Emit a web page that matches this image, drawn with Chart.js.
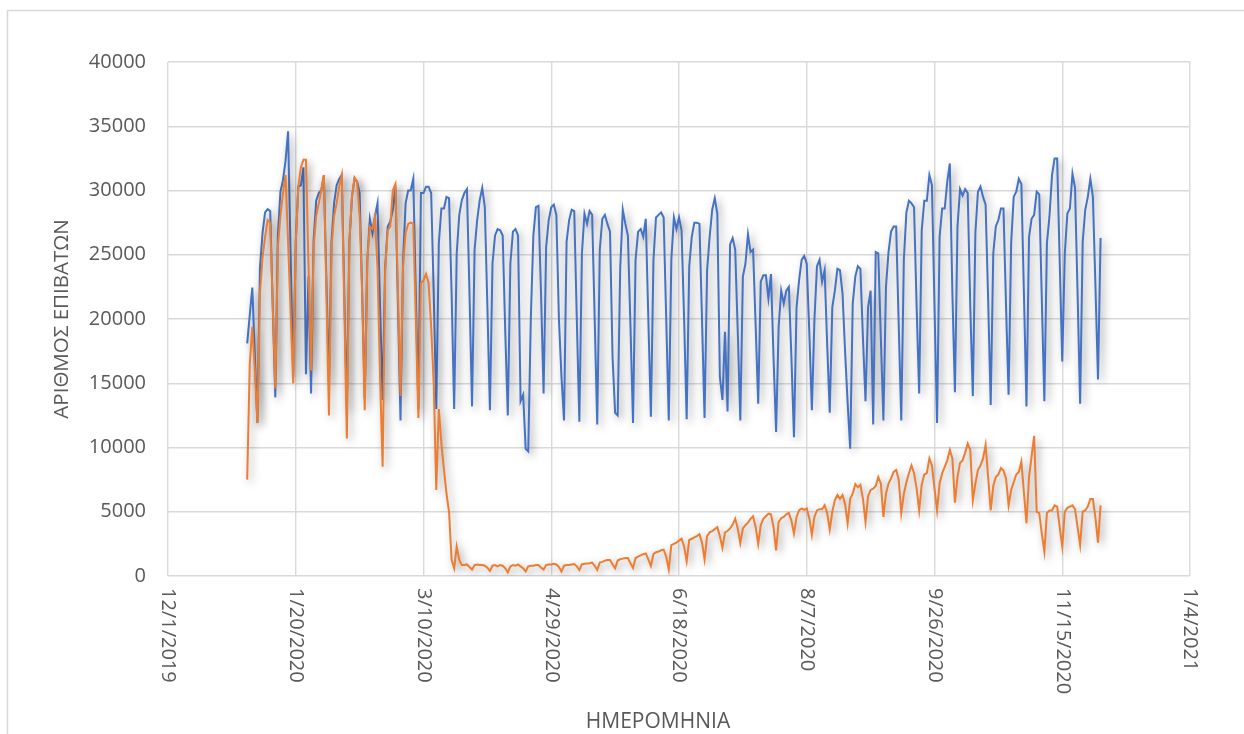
<!DOCTYPE html>
<html>
<head>
<meta charset="utf-8">
<script src="https://cdn.jsdelivr.net/npm/chart.js@4.4.1/dist/chart.umd.min.js"></script>
<style>
  html, body { margin: 0; padding: 0; background: #ffffff; }
  #wrap { width: 1244px; height: 734px; position: relative; }
</style>
</head>
<body>
<div id="wrap"><canvas id="chart" width="1244" height="734"></canvas></div>
<script>
// Daily passenger counts, 1 Jan 2020 onwards (one value per day)
const firstDate = '2020-01-01';
const axisStartDate = '2019-12-01';

const passengers2019 = [
  18100, 20300, 22450, 17000, 11900, 24000, 26700, 28300, 28550, 28400, 21000, 13900,
  26500, 29900, 30800, 32300, 34600, 25000, 15500, 26000, 30300, 30400, 31800, 15700,
  23300, 14200, 26100, 29200, 29800, 30000, 31200, 23000, 15000, 26000, 29000, 30400,
  30900, 31200, 22000, 13000, 26000, 29500, 30900, 30700, 29800, 22000, 13800, 24500,
  27800, 26700, 28000, 29000, 21000, 13700, 24000, 27200, 27600, 28500, 30400, 21000,
  12100, 24500, 29000, 30000, 30000, 30900, 22000, 13000, 29800, 29800, 30300, 30300,
  29800, 22000, 13000, 25900, 28600, 28600, 29500, 29400, 22000, 13000, 25100, 28100,
  29250, 29800, 30100, 22000, 13200, 25400, 27700, 29250, 30200, 28700, 21000, 12900,
  24300, 26500, 27000, 26900, 26500, 19000, 12500, 24300, 26800, 27000, 26500, 13600,
  14100, 9900, 9700, 20000, 26500, 28700, 28800, 22000, 14200, 25600, 27700, 28700,
  28900, 28100, 20000, 15500, 12100, 26000, 27700, 28500, 28400, 20000, 12000, 25100,
  28200, 27400, 28400, 28100, 20000, 11800, 25400, 27800, 28100, 27400, 26800, 17000,
  12700, 12500, 24000, 28500, 27400, 26500, 19500, 11900, 24600, 26800, 27000, 26400,
  27800, 20000, 12400, 24600, 27900, 28100, 28300, 27900, 20000, 12100, 24600, 27900,
  27000, 27900, 26900, 20000, 12200, 24100, 26400, 27500, 27500, 27400, 20000, 12300,
  23800, 26400, 28500, 29400, 28200, 15500, 13700, 19000, 12800, 25800, 26300, 25400,
  19000, 12100, 23300, 24300, 26600, 25200, 25400, 19500, 13400, 22900, 23400, 23400,
  21600, 23500, 17000, 11200, 19400, 22200, 21200, 22200, 22500, 17000, 10800, 20900,
  23000, 24600, 24900, 24300, 19000, 12900, 19900, 24100, 24600, 22900, 23800, 18000,
  12700, 20900, 22200, 23900, 23800, 22000, 17500, 13500, 9900, 21200, 23300, 24100,
  23900, 18500, 13600, 20900, 22200, 11800, 25200, 25100, 18500, 12100, 22500, 25200,
  26800, 27200, 27200, 19500, 12100, 24600, 28300, 29200, 29000, 28700, 21000, 14200,
  26900, 29200, 29200, 31200, 30400, 21000, 11900, 26400, 28600, 28600, 30700, 32100,
  22000, 14300, 27200, 30100, 29600, 30100, 29800, 21000, 14000, 26700, 29900, 30300,
  29500, 28900, 21500, 13300, 25100, 27200, 27700, 28600, 28600, 21000, 14100, 25900,
  29500, 29900, 30900, 30500, 22000, 13200, 26400, 27800, 28100, 29900, 29700, 21500,
  13600, 25900, 28000, 31200, 32500, 32500, 24500, 16700, 25100, 28200, 28600, 31300,
  30200, 22000, 13400, 26000, 28500, 29500, 30900, 29500, 22500, 15300, 26300
];

const passengers2020 = [
  7500, 16500, 19400, 16000, 11900, 22000, 24800, 26400, 27700, 27500, 21000, 14600,
  25600, 28000, 29800, 31200, 26000, 20500, 15000, 25900, 30300, 31800, 32400, 32400,
  24000, 16000, 25600, 28000, 29000, 30000, 31200, 22000, 12500, 25600, 28000, 29000,
  30300, 31200, 21000, 10700, 26000, 29500, 31000, 30700, 28000, 22000, 12900, 24600,
  27200, 27000, 27900, 24000, 15500, 8500, 23800, 26900, 27200, 30000, 30500, 22000,
  14000, 24100, 26700, 27400, 27500, 27400, 20000, 12300, 22800, 23000, 23500, 22800,
  19400, 15000, 6700, 13000, 10300, 8300, 6400, 5000, 1250, 600, 2300, 1250,
  850, 850, 900, 700, 500, 850, 900, 850, 850, 800, 650, 400,
  800, 850, 750, 850, 800, 600, 280, 750, 850, 800, 900, 750,
  600, 350, 750, 800, 800, 850, 850, 650, 500, 850, 900, 900,
  950, 900, 700, 350, 800, 850, 850, 900, 930, 750, 470, 900,
  950, 980, 1000, 1050, 800, 480, 1050, 1100, 1200, 1250, 1250, 900,
  600, 1200, 1300, 1350, 1400, 1400, 1000, 620, 1400, 1500, 1600, 1700,
  1760, 1300, 780, 1700, 1850, 1900, 2000, 2050, 1500, 520, 2400, 2500,
  2600, 2750, 2900, 2300, 1150, 2800, 2900, 3000, 3100, 3250, 2600, 1300,
  3100, 3400, 3500, 3650, 3800, 3100, 2200, 3400, 3500, 3700, 4000, 4450,
  3700, 2550, 3700, 3950, 4150, 4450, 4650, 3800, 2500, 3950, 4450, 4650,
  4850, 4800, 3800, 2000, 4200, 4500, 4600, 4800, 4900, 4300, 3300, 4600,
  5100, 5250, 5150, 5250, 4500, 3200, 4600, 5100, 5200, 5200, 5500, 4900,
  3600, 5000, 5900, 6300, 6000, 6300, 5600, 4100, 6000, 6400, 7150, 6900,
  7100, 6000, 4200, 6200, 6700, 6800, 7000, 7700, 7200, 4600, 6400, 7200,
  7600, 8100, 8250, 7500, 4900, 6400, 7300, 8000, 8600, 8000, 6800, 5100,
  7100, 7900, 8000, 9150, 8600, 6800, 5100, 7200, 8000, 8500, 9000, 9800,
  9150, 5700, 7700, 8800, 9000, 9600, 10300, 9800, 5900, 7200, 8250, 8600,
  9150, 10200, 7700, 5100, 7000, 7700, 7900, 8400, 8200, 7600, 5500, 6700,
  7300, 7900, 8100, 8900, 6500, 4100, 7700, 9300, 10900, 5000, 4900, 3300,
  1900, 4900, 5100, 5100, 5500, 5400, 3800, 2300, 5000, 5300, 5400, 5500,
  5200, 3800, 2400, 5000, 5100, 5400, 6000, 6000, 4500, 2600, 5500
];

// Date axis: days counted from the first tick, labelled every 50 days
const dateTickLabels = ['12/1/2019', '1/20/2020', '3/10/2020', '4/29/2020', '6/18/2020',
                        '8/7/2020', '9/26/2020', '11/15/2020', '1/4/2021'];
const valueTicks = [0, 5000, 10000, 15000, 20000, 25000, 30000, 35000, 40000];

const yTitle = 'ΑΡΙΘΜΟΣ ΕΠΙΒΑΤΩΝ';
const xTitle = 'ΗΜΕΡΟΜΗΝΙΑ';

const DAY_MS = 86400000;
const offsetDays = Math.round((Date.parse(firstDate) - Date.parse(axisStartDate)) / DAY_MS);
const toPoints = arr => arr.map((v, i) => ({ x: offsetDays + i, y: v }));

const TEXT = '#595959';
const GRID = '#d9d9d9';
const FONT = "'Open Sans', 'Noto Sans', sans-serif";

// Soft drop shadow under each line
const lineShadow = {
  id: 'lineShadow',
  beforeDatasetDraw(chart) {
    const c = chart.ctx;
    c.save();
    c.shadowColor = 'rgba(0,0,0,0.42)';
    c.shadowBlur = 8;
    c.shadowOffsetX = 3;
    c.shadowOffsetY = 3;
  },
  afterDatasetDraw(chart) { chart.ctx.restore(); }
};

// Outer chart frame
const frame = {
  id: 'frame',
  beforeDraw(chart) {
    const c = chart.ctx;
    c.save();
    c.fillStyle = '#ffffff';
    c.fillRect(0, 0, chart.width, chart.height);
    c.strokeStyle = GRID;
    c.lineWidth = 1.5;
    c.beginPath();
    c.moveTo(7.5, chart.height);
    c.lineTo(7.5, 10.5);
    c.lineTo(chart.width, 10.5);
    c.stroke();
    c.restore();
  }
};

// Date labels under the axis, turned to read downwards, and the axis title
const dateLabels = {
  id: 'dateLabels',
  afterDraw(chart) {
    const xs = chart.scales.x;
    const area = chart.chartArea;
    const c = chart.ctx;
    c.save();
    c.fillStyle = TEXT;
    c.font = "20px " + FONT;
    c.textAlign = 'left';
    c.textBaseline = 'middle';
    xs.ticks.forEach((t, i) => {
      const px = xs.getPixelForValue(t.value);
      c.save();
      c.translate(px, xs.top + 12);
      c.rotate(Math.PI / 2);
      c.fillText(dateTickLabels[i], 0, 0);
      c.restore();
    });
    c.font = "21px " + FONT;
    c.textAlign = 'center';
    c.fillText(xTitle, area.left + 490, xs.bottom - 12);
    c.restore();
  }
};

new Chart(document.getElementById('chart'), {
  type: 'line',
  data: {
    datasets: [
      {
        label: '2019',
        data: toPoints(passengers2019),
        borderColor: '#4472C4',
        borderWidth: 2,
        pointRadius: 0,
        tension: 0,
        order: 2
      },
      {
        label: '2020',
        data: toPoints(passengers2020),
        borderColor: '#ED7D31',
        borderWidth: 2,
        pointRadius: 0,
        tension: 0,
        order: 1
      }
    ]
  },
  options: {
    responsive: false,
    animation: false,
    layout: { padding: { top: 62, right: 54, bottom: 0, left: 0 } },
    plugins: { legend: { display: false }, tooltip: { enabled: false } },
    scales: {
      x: {
        type: 'linear',
        min: 0,
        max: (dateTickLabels.length - 1) * 50,
        ticks: { stepSize: 50, display: false },
        grid: { color: GRID, lineWidth: 1.4, drawTicks: false },
        border: { display: false },
        title: { display: false },
        afterFit(s) { s.height = 158; }
      },
      y: {
        min: valueTicks[0],
        max: valueTicks[valueTicks.length - 1],
        afterBuildTicks(s) { s.ticks = valueTicks.map(v => ({ value: v })); },
        ticks: {
          color: TEXT,
          font: { family: FONT, size: 20 },
          padding: 22,
          callback: v => String(v)
        },
        grid: { color: GRID, lineWidth: 1.4, drawTicks: false },
        border: { display: false },
        title: {
          display: true,
          text: yTitle,
          color: TEXT,
          font: { family: FONT, size: 20.5 },
          padding: { top: 50, bottom: 0 }
        },
        afterFit(s) { s.width = 168; }
      }
    }
  },
  plugins: [frame, lineShadow, dateLabels]
});
</script>
</body>
</html>
